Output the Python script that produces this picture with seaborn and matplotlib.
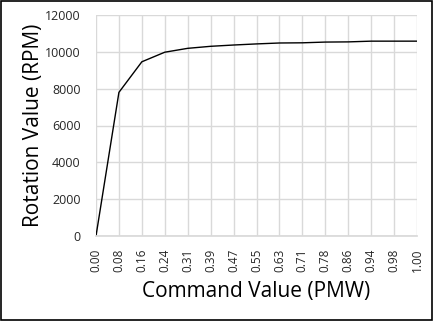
import matplotlib
matplotlib.use("Agg")
import matplotlib.pyplot as plt
import seaborn as sns
import pandas as pd
from matplotlib.patches import Rectangle

command_labels = ["0.00", "0.08", "0.16", "0.24", "0.31", "0.39", "0.47", "0.55",
                  "0.63", "0.71", "0.78", "0.86", "0.94", "0.98", "1.00"]
rotation_rpm = [0, 7800, 9460, 9980, 10190, 10300, 10370, 10430,
                10480, 10490, 10530, 10540, 10580, 10580, 10580]
y_ticks = [0, 2000, 4000, 6000, 8000, 10000, 12000]

sns.set_theme(style="white")
plt.rcParams["font.family"] = ["Open Sans", "DejaVu Sans"]

df = pd.DataFrame({"command": command_labels, "rpm": rotation_rpm})

fig = plt.figure(figsize=(4.36, 3.36), dpi=100)
ax = fig.add_axes([96 / 436, 1 - 236 / 336, (417 - 96) / 436, (236 - 15) / 336])

sns.lineplot(data=df, x="command", y="rpm", sort=False, color="black",
             linewidth=1.0, ax=ax)

ax.set_xlim(0, len(command_labels) - 1)
ax.set_ylim(0, 12000)
ax.set_yticks(y_ticks)
ax.set_yticklabels([str(v) for v in y_ticks])
ax.set_xticks(range(len(command_labels)))
ax.set_xticklabels(command_labels, rotation=90)
ax.grid(True, color="#d9d9d9", linewidth=1.0)
ax.set_axisbelow(True)
for s in ax.spines.values():
    s.set_visible(False)
ax.spines["bottom"].set_visible(True)
ax.spines["bottom"].set_color("#d9d9d9")
ax.tick_params(axis="both", length=0, colors="#262626")
ax.tick_params(axis="y", pad=11, labelsize=9)
ax.tick_params(axis="x", pad=9, labelsize=8.5)

ax.set_xlabel("Command Value (PMW)", fontsize=15, color="black", va="center")
ax.set_ylabel("Rotation Value (RPM)", fontsize=15, color="black", va="center")
ax.xaxis.set_label_coords(0.5, -56 / 221)
ax.yaxis.set_label_coords(-63 / 321, 0.5)

# chart frame
fig.patches.append(Rectangle((0.5 / 436, 1 - 319.5 / 336), 431 / 436, 319 / 336,
                             transform=fig.transFigure, fill=False,
                             edgecolor="black", linewidth=1.2))

fig.savefig("out.png", dpi=100, facecolor="white")
